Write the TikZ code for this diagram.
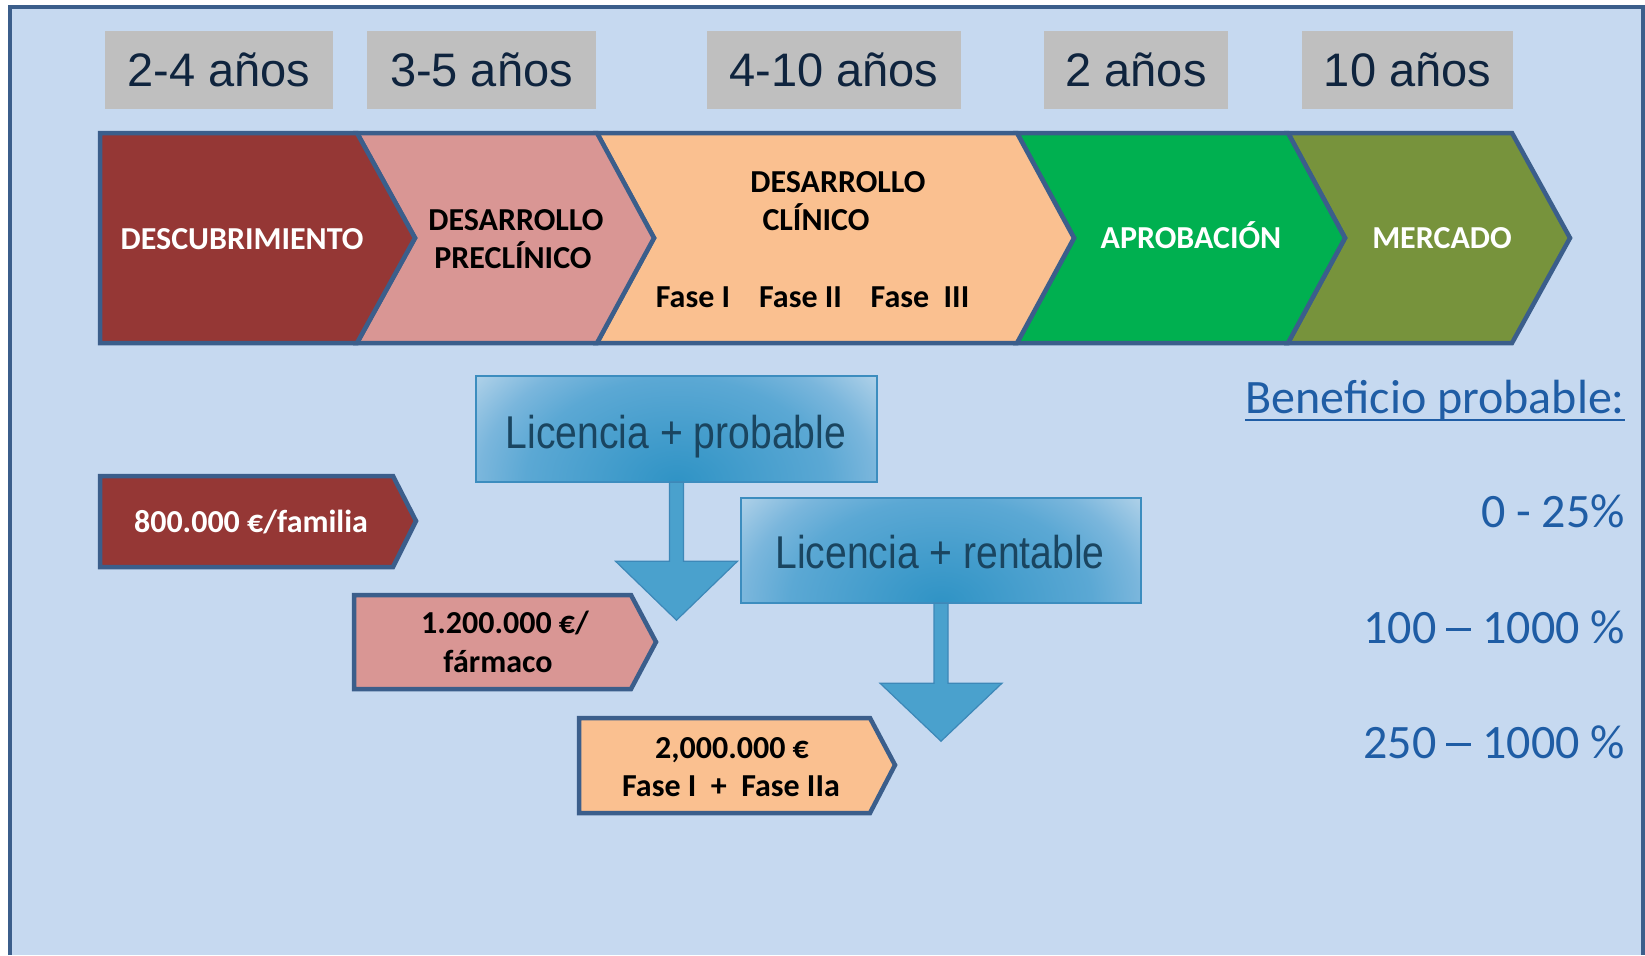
\documentclass[tikz,border=0pt]{standalone}
\usepackage{fontspec}
\setmainfont{Carlito}
\newfontfamily\arialfont{Liberation Sans}
\newfontfamily\arialnarrow[FakeStretch=0.85]{Liberation Sans}
\usetikzlibrary{calc}
\definecolor{bgc}{HTML}{C6D9F0}
\definecolor{framec}{HTML}{3B5E8B}
\definecolor{grayc}{HTML}{BFBFBF}
\definecolor{yeartext}{HTML}{0F243E}
\definecolor{chA}{HTML}{953735}
\definecolor{chB}{HTML}{D99694}
\definecolor{chC}{HTML}{FAC090}
\definecolor{chD}{HTML}{00B050}
\definecolor{chE}{HTML}{77933C}
\definecolor{licborder}{HTML}{3C8DBF}
\definecolor{lictext}{HTML}{1A4560}
\definecolor{arrowfill}{HTML}{4AA1CD}
\definecolor{arrowedge}{HTML}{3D88B8}
\definecolor{benc}{HTML}{1F5DA5}
\definecolor{shA}{HTML}{2F93C5}
\definecolor{shB}{HTML}{5BA8D4}
\definecolor{shC}{HTML}{7AB6DC}
\definecolor{shD}{HTML}{ADD0E8}
\definecolor{shE}{HTML}{B2D3EA}
\pgfdeclareradialshading{licshade}{\pgfpoint{0bp}{0bp}}{%
  color(0bp)=(shA); color(14.5bp)=(shB); color(19bp)=(shC);
  color(24bp)=(shD); color(25bp)=(shE); color(50bp)=(shE)}
\newcommand{\longdash}{\hspace{10pt}\rule[12.5pt]{25pt}{3pt}\hspace{11pt}}
\tikzset{
  yearbox/.style={fill=grayc, minimum height=78pt, inner sep=0pt,
    text=yeartext, font=\arialfont\fontsize{47}{56}\selectfont},
  chev/.style={draw=framec, line width=4.5pt, line join=miter},
  chtext/.style={inner sep=0pt, anchor=base, font=\bfseries\fontsize{32}{38}\selectfont},
  licbox/.style={inner sep=0pt},
  licedge/.style={draw=licborder, line width=2pt},
  lictxt/.style={inner sep=0pt, anchor=base, text=lictext,
    font=\arialnarrow\fontsize{46}{55}\selectfont},
  blockarrow/.style={fill=arrowfill, draw=arrowedge, line width=1.2pt, line join=miter},
  bentext/.style={inner sep=0pt, anchor=base east, text=benc, font=\fontsize{48}{57}\selectfont}
}
\begin{document}
\begin{tikzpicture}[x=1pt, y=-1pt]
\useasboundingbox (0,0) rectangle (1645,955);
% background frame
\fill[bgc] (10,7) rectangle (1643,955);
\draw[framec, line width=4pt] (10,955) -- (10,7) -- (1643,7) -- (1643,955);

% year boxes
\node[yearbox, minimum width=228pt] (y1) at (219,70) {2-4 años};
\node[yearbox, minimum width=229pt] (y2) at (481.5,70) {3-5 años};
\node[yearbox, minimum width=254pt] (y3) at (834,70) {4-10 años};
\node[yearbox, minimum width=184pt] (y4) at (1136,70) {2 años};
\node[yearbox, minimum width=211pt] (y5) at (1407.5,70) {10 años};

% chevron band
\path[chev, fill=chE] (1288,133) -- (1512,133) -- (1570,238) -- (1512,343) -- (1288,343) -- (1345,238) -- cycle;
\path[chev, fill=chD] (1017,133) -- (1288,133) -- (1345,238) -- (1288,343) -- (1017,343) -- (1074,238) -- cycle;
\path[chev, fill=chC] (597,133) -- (1017,133) -- (1074,238) -- (1017,343) -- (597,343) -- (654,238) -- cycle;
\path[chev, fill=chB] (357,133) -- (597,133) -- (654,238) -- (597,343) -- (357,343) -- (415,238) -- cycle;
\path[chev, fill=chA] (100,133) -- (357,133) -- (415,238) -- (357,343) -- (100,343) -- cycle;

\node[chtext, text=white] (t1) at (242,249) {DESCUBRIMIENTO};
\node[chtext] (t2a) at (516,230) {DESARROLLO};
\node[chtext] (t2b) at (513,268) {PRECLÍNICO};
\node[chtext] (t3a) at (838,192) {DESARROLLO};
\node[chtext] (t3b) at (816,230) {CLÍNICO};
\node[chtext] (f1) at (693,307) {Fase I};
\node[chtext] (f2) at (800.5,307) {Fase II};
\node[chtext] (f3) at (920,307) {Fase\ \ III};
\node[chtext, text=white] (t4) at (1191,248) {APROBACIÓN};
\node[chtext, text=white] (t5) at (1442,248) {MERCADO};

% money chevrons
\path[chev, fill=chA] (100,476) -- (393,476) -- (416,521) -- (393,567) -- (100,567) -- cycle;
\node[chtext, text=white] (m1) at (251,532) {800.000 €/familia};
\path[chev, fill=chB] (354,595) -- (631,595) -- (656,642) -- (631,689) -- (354,689) -- cycle;
\node[chtext] (m2a) at (505,633) {1.200.000 €/};
\node[chtext] (m2b) at (498,672) {fármaco};
\path[chev, fill=chC] (579,718) -- (870,718) -- (895,765) -- (870,813) -- (579,813) -- cycle;
\node[chtext] (m3a) at (732,758) {2,000.000 €};
\node[chtext] (m3b) at (731,796) {Fase I\ \ +\ \ Fase IIa};

% licence boxes
\node[licbox, minimum width=401pt, minimum height=106pt] (lp) at (676.5,429) {};
\node[licbox, minimum width=400pt, minimum height=105pt] (lr) at (941,550.5) {};
\begin{scope}
  \clip (lp.south west) rectangle (lp.north east);
  \shade[shading=licshade] (lp.south) ellipse [x radius=260pt, y radius=180pt];
\end{scope}
\draw[licedge] (lp.south west) rectangle (lp.north east);
\begin{scope}
  \clip (lr.south west) rectangle (lr.north east);
  \shade[shading=licshade] (lr.south) ellipse [x radius=260pt, y radius=180pt];
\end{scope}
\draw[licedge] (lr.south west) rectangle (lr.north east);
\node[lictxt] (lpt) at (676,448) {Licencia + probable};
\node[lictxt] (lrt) at (940,568) {Licencia + rentable};

% block arrows
\path[blockarrow] ($(lp.south)+(-7,0)$) -- ++(0,79) -- ++(-54,0) -- ($(lp.south)+(0,138)$)
  -- ++(61,-59) -- ++(-54,0) -- ($(lp.south)+(7,0)$) -- cycle;
\path[blockarrow] ($(lr.south)+(-7,0)$) -- ++(0,80) -- ++(-54,0) -- ($(lr.south)+(0,138)$)
  -- ++(61,-58) -- ++(-54,0) -- ($(lr.south)+(7,0)$) -- cycle;

% benefit column
\node[bentext] (ben) at (1625,413) {Beneficio probable:};
\draw[benc, line width=2.5pt] ([yshift=-7pt]ben.base west) -- ([yshift=-7pt]ben.base east);
\node[bentext] (b1) at (1625,527) {0 - 25\%};
\node[bentext] (b2) at (1625,643) {100\longdash1000 \%};
\node[bentext] (b3) at (1625,758) {250\longdash1000 \%};
\end{tikzpicture}
\end{document}
